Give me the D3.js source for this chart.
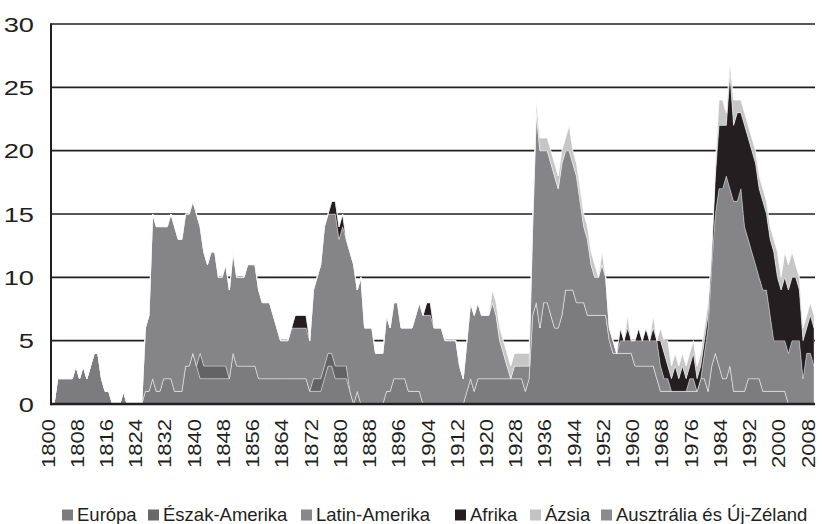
<!DOCTYPE html>
<html>
<head>
<meta charset="utf-8">
<script src="https://cdn.jsdelivr.net/npm/d3@7/dist/d3.min.js"></script>
<style>
  body { margin: 0; background: #fff; }
  text { font-family: "Liberation Sans", Arial, sans-serif; fill: #231f20; }
</style>
</head>
<body>
<div id="chart"></div>
<script>
// number of countries per year, 1800-2008, one value per year
const europa = [
  0,2,2,2,2,2,3,2,3,2,  3,4,4,2,1,1,0,0,0,1,  0,0,0,0,0,1,1,2,1,1,
  2,2,2,1,1,1,3,3,4,3,  2,2,2,2,2,2,2,2,2,4,  3,3,3,3,3,3,2,2,2,2,
  2,2,2,2,2,2,2,2,2,2,  1,1,1,1,2,3,3,2,2,2,  2,1,0,1,0,0,0,0,0,0,
  0,1,1,2,2,2,2,1,1,1,  1,0,0,0,0,0,0,0,0,0,  0,0,0,1,2,1,2,2,2,2,
  2,2,2,2,2,2,2,2,2,1,  2,7,8,6,8,8,7,6,6,7,  9,9,9,8,8,8,7,7,7,7,
  7,7,5,4,4,4,4,4,4,3,  3,3,3,3,3,2,1,1,1,1,  1,1,1,1,1,1,1,2,2,1,
  3,4,3,2,2,3,1,1,1,1,  2,2,2,2,1,1,1,1,1,1,  1,0,0,0,0,0,0,0,0
];
const eszakAmerika = [
  0,0,0,0,0,0,0,0,0,0,  0,0,0,0,0,0,0,0,0,0,  0,0,0,0,0,0,0,0,0,0,
  0,0,0,0,0,0,0,0,0,0,  2,1,1,1,1,1,1,1,0,0,  0,0,0,0,0,0,0,0,0,0,
  0,0,0,0,0,0,0,0,0,0,  0,1,1,1,1,1,1,1,1,1,  1,0,0,0,0,0,0,0,0,0,
  0,0,0,0,0,0,0,0,0,0,  0,0,0,0,0,0,0,0,0,0,  0,0,0,0,0,0,0,0,0,0,
  0,0,0,0,0,0,0,0,0,0,  0,0,0,0,0,0,0,0,0,0,  0,0,0,0,0,0,0,0,0,0,
  0,0,0,0,0,0,0,0,0,0,  0,0,0,0,0,0,0,0,0,0,  0,0,0,0,0,0,0,0,0,0,
  0,0,0,0,0,0,0,0,0,0,  0,0,0,0,0,0,0,0,0,0,  0,0,0,0,0,0,0,0,0
];
const latinAmerika = [
  0,0,0,0,0,0,0,0,0,0,  0,0,0,0,0,0,0,0,0,0,  0,0,0,0,0,5,6,13,13,13,
  12,12,13,13,12,12,12,12,12,12,  10,9,8,9,9,7,7,8,7,8,  7,7,7,8,8,8,7,6,6,6,
  5,4,3,3,3,4,4,4,4,4,  4,7,8,9,11,11,11,12,10,11,  10,11,11,8,10,6,6,6,4,4,
  4,6,5,6,6,4,4,5,5,6,  7,7,7,7,6,6,6,5,5,5,  5,3,2,4,6,6,6,5,5,5,
  6,5,3,2,1,0,1,1,1,2,  1,7,15,14,12,12,12,12,11,12,  11,11,10,10,8,6,6,4,3,3,
  4,3,1,1,0,1,1,1,1,2,  2,2,2,2,2,3,2,1,1,0,  0,0,0,0,1,1,0,0,2,5,
  8,11,14,15,16,14,15,15,16,13,  11,10,9,8,8,8,6,4,4,4,  4,4,5,5,5,2,4,4,3
];
const afrika = [
  0,0,0,0,0,0,0,0,0,0,  0,0,0,0,0,0,0,0,0,0,  0,0,0,0,0,0,0,0,0,0,
  0,0,0,0,0,0,0,0,0,0,  0,0,0,0,0,0,0,0,0,0,  0,0,0,0,0,0,0,0,0,0,
  0,0,0,0,0,0,1,1,1,1,  0,0,0,0,0,0,1,1,1,1,  0,0,0,0,0,0,0,0,0,0,
  0,0,0,0,0,0,0,0,0,0,  0,0,1,1,0,0,0,0,0,0,  0,0,0,0,0,0,0,0,0,0,
  0,0,0,0,0,0,0,0,0,0,  0,0,0,0,0,0,0,0,0,0,  0,0,0,0,0,0,0,0,0,0,
  0,0,0,0,0,1,0,1,0,0,  1,0,1,0,1,0,2,2,1,1,  2,1,2,1,1,2,1,1,1,1,
  1,3,5,5,4,9,6,7,6,8,  8,8,8,7,7,6,6,7,5,4,  5,5,5,5,4,3,2,3,3
];
const azsia = [
  0,0,0,0,0,0,0,0,0,0,  0,0,0,0,0,0,0,0,0,0,  0,0,0,0,0,0,0,0,0,0,
  0,0,0,0,0,0,0,0,0,0,  0,0,0,0,0,0,0,0,0,0,  0,0,0,0,0,0,0,0,0,0,
  0,0,0,0,0,0,0,0,0,0,  0,0,0,0,0,0,0,0,0,0,  0,0,0,0,0,0,0,0,0,0,
  0,0,0,0,0,0,0,0,0,0,  0,0,0,0,0,0,0,0,0,0,  0,0,0,0,0,0,0,0,0,0,
  1,1,1,1,1,1,1,1,1,1,  1,1,1,1,1,1,1,1,1,1,  1,2,1,1,1,1,1,1,1,0,
  1,0,0,0,0,0,0,1,0,0,  0,0,0,0,1,0,1,1,2,1,  1,1,1,1,1,1,1,1,1,1,
  0,1,2,2,1,1,2,1,1,1,  1,1,1,1,1,1,1,1,2,1,  2,2,2,1,1,1,1,1,1
];
const ausztralia = [
  0,0,0,0,0,0,0,0,0,0,  0,0,0,0,0,0,0,0,0,0,  0,0,0,0,0,0,0,0,0,0,
  0,0,0,0,0,0,0,0,0,0,  0,0,0,0,0,0,0,0,0,0,  0,0,0,0,0,0,0,0,0,0,
  0,0,0,0,0,0,0,0,0,0,  0,0,0,0,0,0,0,0,0,0,  0,0,0,0,0,0,0,0,0,0,
  0,0,0,0,0,0,0,0,0,0,  0,0,0,0,0,0,0,0,0,0,  0,0,0,0,0,0,0,0,0,0,
  0,0,0,0,0,0,0,0,0,0,  0,0,0,0,0,0,0,0,0,0,  0,0,0,0,0,0,0,0,0,0,
  0,0,0,0,0,0,0,0,0,0,  0,0,0,0,0,0,0,0,0,0,  0,0,0,0,0,0,0,0,0,0,
  0,0,0,0,0,0,0,0,0,0,  0,0,0,0,0,0,0,0,0,0,  0,0,0,0,0,0,0,0,0
];

const seriesNames = ["Európa", "Észak-Amerika", "Latin-Amerika", "Afrika", "Ázsia", "Ausztrália és Új-Zéland"];
const seriesValues = [europa, eszakAmerika, latinAmerika, afrika, azsia, ausztralia];
const seriesColors = ["#7c7c7e", "#636365", "#858587", "#231f20", "#c6c6c6", "#8e8e90"];
const legendColors = ["#7c7c7e", "#69696b", "#88888a", "#231f20", "#c3c3c3", "#8c8c8e"];

const tickYears = [1800, 1808, 1816, 1824, 1832, 1840, 1848, 1856, 1864, 1872, 1880, 1888, 1896,
  1904, 1912, 1920, 1928, 1936, 1944, 1952, 1960, 1968, 1976, 1984, 1992, 2000, 2008];
const yTicks = [0, 5, 10, 15, 20, 25, 30];

const firstYear = 1800;
const rows = europa.map((v, i) => {
  const row = {year: firstYear + i};
  seriesNames.forEach((name, k) => { row[name] = seriesValues[k][i]; });
  return row;
});

const width = 822, height = 524;
const plot = {left: 51, right: 815, top: 24, bottom: 404};

const svg = d3.select("#chart")
  .append("svg")
  .attr("width", width)
  .attr("height", height)
  .style("background", "#fff");

const x = d3.scaleLinear()
  .domain([firstYear, firstYear + rows.length - 1])
  .range([54, 814]);

const y = d3.scaleLinear()
  .domain([0, 30])
  .range([plot.bottom, plot.top]);

// grid lines (the areas cover them)
svg.append("g")
  .selectAll("line")
  .data(yTicks.filter(d => d > 0))
  .join("line")
  .attr("x1", plot.left)
  .attr("x2", plot.right)
  .attr("y1", d => y(d))
  .attr("y2", d => y(d))
  .attr("stroke", "#231f20")
  .attr("stroke-width", 1.6);

const stack = d3.stack().keys(seriesNames);
const layers = stack(rows);

const area = d3.area()
  .x(d => x(d.data.year))
  .y0(d => y(d[0]))
  .y1(d => y(d[1]));

svg.append("g")
  .selectAll("path")
  .data(layers)
  .join("path")
  .attr("d", area)
  .attr("fill", (d, i) => seriesColors[i])
  .attr("stroke", "rgba(255,255,255,0.55)")
  .attr("stroke-width", 0.6);

// axis lines
svg.append("line")
  .attr("x1", plot.left).attr("x2", plot.right)
  .attr("y1", plot.bottom).attr("y2", plot.bottom)
  .attr("stroke", "#231f20").attr("stroke-width", 2.6);

svg.append("line")
  .attr("x1", plot.left).attr("x2", plot.left)
  .attr("y1", plot.top - 0.8).attr("y2", plot.bottom + 1.3)
  .attr("stroke", "#231f20").attr("stroke-width", 2);

// y labels
svg.append("g")
  .selectAll("text")
  .data(yTicks)
  .join("text")
  .attr("transform", d => `translate(34,${y(d)}) scale(1.3,1)`)
  .attr("dy", "0.36em")
  .attr("text-anchor", "end")
  .style("font-size", "21px")
  .text(d => d);

// x labels, rotated
svg.append("g")
  .selectAll("text")
  .data(tickYears)
  .join("text")
  .attr("transform", d => `translate(${x(d) + 0.5},419) rotate(-90) scale(1,0.8)`)
  .attr("text-anchor", "end")
  .style("font-size", "22px")
  .text(d => d);

// legend
const legendX = [62, 148, 301, 455, 530, 601];
const legend = svg.append("g");
seriesNames.forEach((name, i) => {
  legend.append("rect")
    .attr("x", legendX[i])
    .attr("y", 509.5)
    .attr("width", 11)
    .attr("height", 11)
    .attr("fill", legendColors[i]);
  legend.append("text")
    .attr("x", legendX[i] + 15)
    .attr("y", 520.5)
    .style("font-size", "18.5px")
    .text(name);
});
</script>
</body>
</html>
